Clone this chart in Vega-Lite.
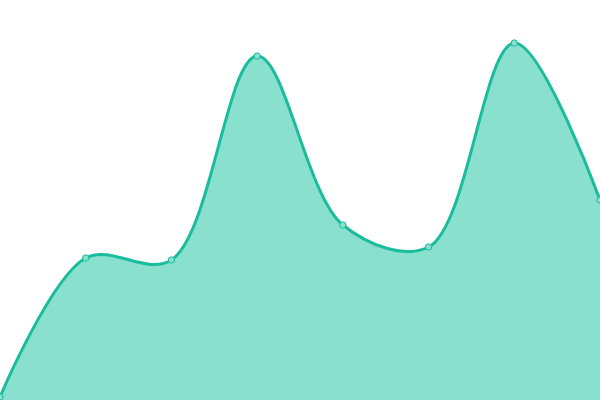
{
  "$schema": "https://vega.github.io/schema/vega-lite/v6.json",
  "autosize": {"type": "none"},
  "width": 600,
  "height": 400,
  "padding": 0,
  "data": {
    "values": [
      {"idx": 0, "value": 3},
      {"idx": 1, "value": 142},
      {"idx": 2, "value": 140},
      {"idx": 3, "value": 344},
      {"idx": 4, "value": 175},
      {"idx": 5, "value": 153},
      {"idx": 6, "value": 357},
      {"idx": 7, "value": 200}
    ]
  },
  "encoding": {
    "x": {"field": "idx", "type": "quantitative", "scale": {"domain": [0, 7], "nice": false, "zero": false}, "axis": null},
    "y": {"field": "value", "type": "quantitative", "scale": {"domain": [0, 400], "nice": false}, "axis": null}
  },
  "layer": [
    {
      "mark": {"type": "area", "interpolate": "catmull-rom", "color": "#1abc9c", "fill": "#89e0cf", "fillOpacity": 1, "line": {"color": "#1abc9c", "strokeWidth": 3}}
    },
    {
      "mark": {"type": "point", "filled": true, "fill": "#89e0cf", "stroke": "#1abc9c", "strokeWidth": 1, "size": 40, "opacity": 1}
    }
  ],
  "config": {"view": {"stroke": null}}
}
